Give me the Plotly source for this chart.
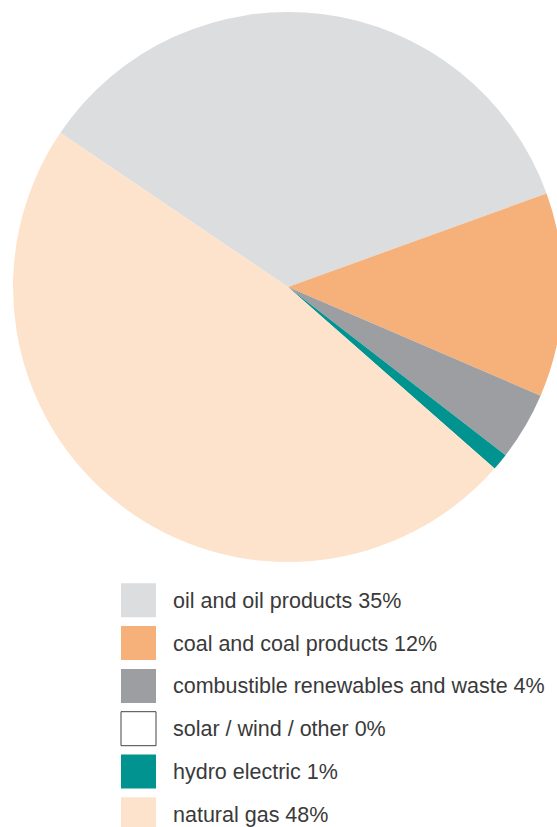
import plotly.graph_objects as go

# ---- data ----
labels = ["oil and oil products", "coal and coal products", "combustible renewables and waste",
          "solar / wind / other", "hydro electric", "natural gas"]
values = [35, 12, 4, 0, 1, 48]
colors = ["#dcdddf", "#f6b17a", "#9d9ea2", "#ffffff", "#00938f", "#fde3cb"]

W, H = 580, 827
# pie geometry in pixels (center 288,287 radius 275)
cx, cy, r = 288, 287, 275

fig = go.Figure(go.Pie(
    labels=labels, values=values, sort=False, direction="clockwise", rotation=-55.9,
    marker=dict(colors=colors, line=dict(width=0)),
    textinfo="none", showlegend=False,
    domain=dict(x=[(cx - r) / W, (cx + r) / W], y=[1 - (cy + r) / H, 1 - (cy - r) / H]),
))

shapes, annotations = [], []
row0, pitch, sq_w, sq_h, sq_x = 583.3, 42.8, 35, 34, 121
for i, (lab, val, col) in enumerate(zip(labels, values, colors)):
    top = row0 + i * pitch
    line = dict(color="#444444", width=1) if col == "#ffffff" else dict(width=0)
    shapes.append(dict(type="rect", xref="paper", yref="paper",
                       x0=sq_x / W, x1=(sq_x + sq_w) / W,
                       y0=1 - (top + sq_h) / H, y1=1 - top / H,
                       fillcolor=col, line=line, layer="above"))
    annotations.append(dict(xref="paper", yref="paper", x=170.5 / W, y=1 - (top + sq_h / 2 + 0.5) / H,
                            xanchor="left", yanchor="middle", showarrow=False,
                            text=f"{lab} {val}%",
                            font=dict(family="Liberation Sans, Arial, sans-serif", size=21.5, color="#3a3a3a")))

fig.update_layout(width=W, height=H, margin=dict(l=0, r=0, t=0, b=0),
                  paper_bgcolor="white", plot_bgcolor="white",
                  shapes=shapes, annotations=annotations)

fig.write_html("out.html", config={"displayModeBar": False},
               post_script="document.body.style.margin='0';document.body.style.overflow='hidden';document.documentElement.style.overflow='hidden';")
